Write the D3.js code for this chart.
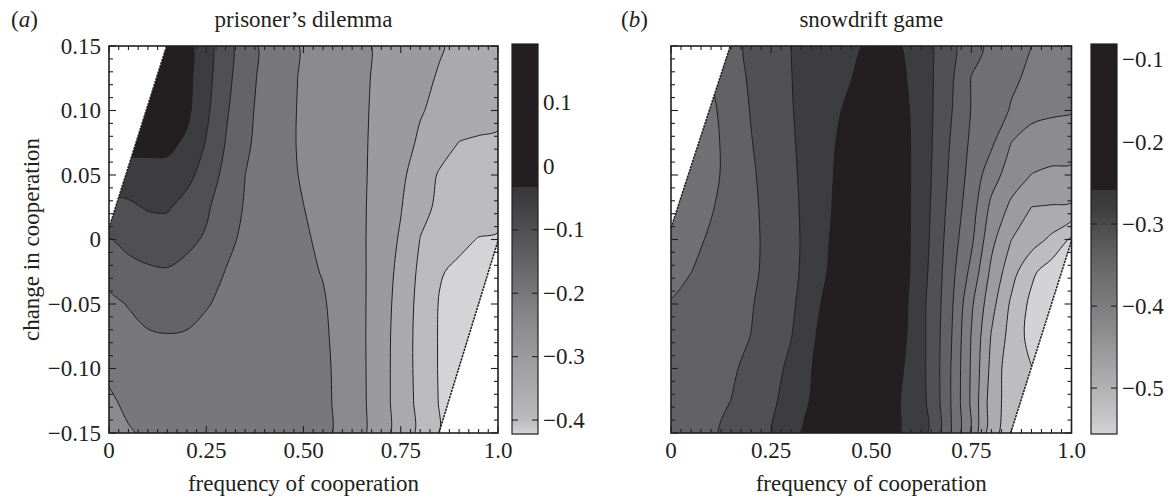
<!DOCTYPE html>
<html><head><meta charset="utf-8">
<script src="https://cdn.jsdelivr.net/npm/d3@7"></script>
<style>body{margin:0;background:#fff}svg text{font-family:"Liberation Serif","Times New Roman",serif;fill:#231f20}</style>
</head><body><svg id="c" width="1172" height="502"></svg>
<script>
// ---------------- data ----------------
const gridX = [0,0.05,0.1,0.15,0.2,0.25,0.3,0.35,0.4,0.45,0.5,0.55,0.6,0.65,0.7,0.75,0.8,0.85,0.9,0.95,1.0];
const gridY = [0.15,0.125,0.1,0.075,0.05,0.025,0,-0.025,-0.05,-0.075,-0.1,-0.125,-0.15];

// prisoner's dilemma: change in cooperation field (rows top to bottom)
const pdValues = [
 [0.15,0.13,0.10,0.065,0.017,-0.0324,-0.081,-0.1273,-0.1615,-0.1848,-0.2045,-0.2175,-0.2305,-0.2434,-0.2566,-0.2698,-0.2831,-0.2963,-0.31,-0.322,-0.333],
 [0.15,0.13,0.10,0.065,0.015,-0.034,-0.0843,-0.1311,-0.1636,-0.1869,-0.2056,-0.2183,-0.2311,-0.2438,-0.258,-0.2737,-0.2894,-0.304,-0.317,-0.33,-0.342],
 [0.15,0.14,0.10,0.06,0.011,-0.0401,-0.0929,-0.1371,-0.166,-0.1887,-0.2064,-0.219,-0.2316,-0.2443,-0.2601,-0.2786,-0.297,-0.31,-0.3225,-0.343,-0.345],
 [0.03,0.02,0.014,0.012,-0.008,-0.0529,-0.1016,-0.1419,-0.1675,-0.1895,-0.2066,-0.2192,-0.2318,-0.2445,-0.2623,-0.2841,-0.3062,-0.3295,-0.351,-0.352,-0.353],
 [-0.03,-0.025,-0.017,-0.016,-0.035,-0.0723,-0.1138,-0.15,-0.169,-0.1878,-0.2046,-0.2179,-0.2312,-0.2444,-0.2647,-0.2901,-0.3238,-0.355,-0.361,-0.366,-0.371],
 [-0.065,-0.058,-0.046,-0.045,-0.0677,-0.093,-0.1247,-0.1539,-0.1691,-0.1842,-0.1994,-0.2144,-0.2294,-0.2445,-0.2683,-0.2972,-0.3393,-0.357,-0.366,-0.376,-0.385],
 [-0.103,-0.087,-0.078,-0.0747,-0.09,-0.1052,-0.1395,-0.1583,-0.1702,-0.1821,-0.194,-0.2087,-0.2264,-0.2441,-0.2716,-0.3058,-0.351,-0.37,-0.3888,-0.402,-0.404],
 [-0.137,-0.115,-0.1067,-0.104,-0.112,-0.130,-0.1512,-0.1612,-0.1711,-0.1811,-0.191,-0.2021,-0.2226,-0.2431,-0.2743,-0.3144,-0.3598,-0.3962,-0.41,-0.417,-0.42],
 [-0.159,-0.148,-0.133,-0.129,-0.1336,-0.148,-0.1564,-0.1648,-0.1732,-0.1816,-0.19,-0.1955,-0.2191,-0.2426,-0.2773,-0.3197,-0.3649,-0.403,-0.41,-0.416,-0.42],
 [-0.175,-0.1625,-0.155,-0.152,-0.154,-0.158,-0.164,-0.171,-0.176,-0.182,-0.187,-0.192,-0.217,-0.2424,-0.2796,-0.3223,-0.3669,-0.404,-0.411,-0.417,-0.42],
 [-0.191,-0.1756,-0.166,-0.162,-0.163,-0.166,-0.17,-0.174,-0.177,-0.181,-0.185,-0.189,-0.2154,-0.2417,-0.2802,-0.323,-0.3664,-0.404,-0.411,-0.417,-0.42],
 [-0.207,-0.19,-0.179,-0.172,-0.171,-0.173,-0.176,-0.178,-0.18,-0.182,-0.185,-0.188,-0.2146,-0.2411,-0.2804,-0.3228,-0.3641,-0.403,-0.41,-0.416,-0.42],
 [-0.212,-0.204,-0.193,-0.185,-0.181,-0.181,-0.182,-0.183,-0.183,-0.183,-0.185,-0.187,-0.2137,-0.2402,-0.2793,-0.3215,-0.3612,-0.401,-0.408,-0.414,-0.42]
];

// snowdrift game: change in cooperation field (rows top to bottom)
const sdValues = [
 [-0.355,-0.342,-0.33,-0.3176,-0.3051,-0.2925,-0.2799,-0.2716,-0.2633,-0.255,-0.245,-0.243,-0.2566,-0.277,-0.303,-0.3291,-0.3467,-0.3583,-0.37,-0.378,-0.385],
 [-0.36,-0.35,-0.34,-0.32,-0.3068,-0.2937,-0.2805,-0.2705,-0.2606,-0.2507,-0.235,-0.235,-0.2546,-0.2772,-0.3058,-0.341,-0.3534,-0.3658,-0.375,-0.3825,-0.39],
 [-0.37,-0.36,-0.3456,-0.3268,-0.3086,-0.295,-0.2814,-0.2692,-0.2571,-0.243,-0.2,-0.22,-0.2529,-0.2773,-0.3086,-0.3412,-0.3576,-0.3721,-0.392,-0.396,-0.398],
 [-0.38,-0.366,-0.348,-0.3296,-0.3111,-0.297,-0.2831,-0.2688,-0.2544,-0.235,-0.19,-0.2,-0.2519,-0.2784,-0.3128,-0.3454,-0.365,-0.4004,-0.4113,-0.414,-0.4148],
 [-0.385,-0.364,-0.3474,-0.3306,-0.3138,-0.2991,-0.285,-0.2692,-0.2525,-0.23,-0.17,-0.19,-0.2519,-0.2797,-0.3166,-0.3503,-0.387,-0.4149,-0.4306,-0.436,-0.4374],
 [-0.37,-0.3555,-0.3421,-0.3288,-0.3154,-0.3013,-0.2867,-0.2698,-0.251,-0.22,-0.16,-0.18,-0.2529,-0.2815,-0.3211,-0.3562,-0.4073,-0.4363,-0.4602,-0.462,-0.464],
 [-0.3573,-0.3469,-0.3365,-0.3261,-0.3156,-0.3031,-0.2879,-0.2699,-0.248,-0.2,-0.15,-0.17,-0.2543,-0.2829,-0.3262,-0.3642,-0.4217,-0.4598,-0.4763,-0.496,-0.525],
 [-0.3488,-0.3403,-0.3317,-0.3232,-0.3146,-0.303,-0.2877,-0.2683,-0.245,-0.19,-0.14,-0.17,-0.2564,-0.285,-0.3307,-0.3781,-0.4366,-0.4786,-0.5139,-0.535,-0.545],
 [-0.3385,-0.332,-0.3252,-0.3185,-0.3118,-0.2994,-0.2847,-0.2635,-0.235,-0.18,-0.13,-0.19,-0.262,-0.2867,-0.335,-0.3949,-0.4497,-0.4953,-0.527,-0.545,-0.555],
 [-0.333,-0.3275,-0.322,-0.316,-0.3097,-0.2952,-0.2808,-0.2576,-0.225,-0.17,-0.125,-0.215,-0.2598,-0.2876,-0.3385,-0.4014,-0.4621,-0.5018,-0.53,-0.545,-0.555],
 [-0.328,-0.323,-0.319,-0.3135,-0.3036,-0.2899,-0.2738,-0.2516,-0.21,-0.16,-0.12,-0.232,-0.261,-0.2874,-0.3414,-0.4036,-0.4682,-0.51,-0.519,-0.53,-0.54],
 [-0.325,-0.3205,-0.316,-0.3098,-0.2976,-0.2854,-0.2684,-0.248,-0.2,-0.15,-0.12,-0.24,-0.2618,-0.2861,-0.3414,-0.4051,-0.4746,-0.505,-0.515,-0.525,-0.535],
 [-0.3215,-0.318,-0.3135,-0.3038,-0.2925,-0.2812,-0.2631,-0.24,-0.19,-0.14,-0.12,-0.24,-0.2624,-0.2837,-0.3394,-0.4055,-0.4804,-0.505,-0.515,-0.525,-0.535]
];

const pdLevels = [-0.4,-0.35,-0.3,-0.25,-0.2,-0.15,-0.1,-0.05,0,0.05,0.1,0.15];
const sdLevels = [-0.52,-0.49,-0.46,-0.43,-0.4,-0.37,-0.34,-0.31,-0.28,-0.25,-0.22,-0.19,-0.16,-0.13,-0.1];

const xTickValues = [0,0.25,0.5,0.75,1];
const xTickLabels = ["0","0.25","0.50","0.75","1.0"];
const yTickValues = [0.15,0.1,0.05,0,-0.05,-0.1,-0.15];
const yTickLabels = ["0.15","0.10","0.05","0","\u22120.05","\u22120.10","\u22120.15"];

const pdBarRange = [-0.422,0.193];
const pdBarTicks = [0.1,0,-0.1,-0.2,-0.3,-0.4];
const pdBarLabels = ["0.1","0","\u22120.1","\u22120.2","\u22120.3","\u22120.4"];
const sdBarRange = [-0.556,-0.0805];
const sdBarTicks = [-0.1,-0.2,-0.3,-0.4,-0.5];
const sdBarLabels = ["\u22120.1","\u22120.2","\u22120.3","\u22120.4","\u22120.5"];

// excluded (infeasible) corners: boundary lines
const excludedTopLeft = [[0,0.009],[0.148,0.15]];
const excludedBottomRight = [[0.848,-0.15],[1.0,-0.001]];

const panelTitles = ["prisoner\u2019s dilemma","snowdrift game"];
const panelTags = ["a","b"];

// ---------------- styles / layout ----------------
const INK = "#231f20";
const pdBlackFrom = -0.033, sdBlackFrom = -0.258;
// grey ramps (value -> grey)
const pdRamp = d3.scaleLinear()
  .domain([-0.422,-0.4,-0.35,-0.3,-0.25,-0.2,-0.15,-0.1,-0.05,-0.033])
  .range(["#d4d4d6","#bbbbbd","#aaaaac","#9b9b9d","#8b8b8d","#78787a","#646466","#505052","#3d3d3f","#38383a"]);
const sdRamp = d3.scaleLinear()
  .domain([-0.556,-0.52,-0.49,-0.46,-0.43,-0.4,-0.37,-0.34,-0.31,-0.28,-0.258])
  .range(["#d3d3d5","#bdbdbf","#acacae","#9c9c9e","#8c8c8e","#7d7d7f","#717173","#626264","#515153","#3d3d3f","#38383a"]);
const pdColor = v => v >= pdBlackFrom ? INK : pdRamp(v);
const sdColor = v => v >= sdBlackFrom ? INK : sdRamp(v);

const panels = [
 {tag:panelTags[0], title:panelTitles[0], values:pdValues, levels:pdLevels, color:pdColor, blackFrom:pdBlackFrom,
  L:109, R:498, T:46, B:433, bar:{x0:512, x1:538, T:44, B:434, range:pdBarRange, ticks:pdBarTicks, labels:pdBarLabels},
  yLabels:true, tagX:11},
 {tag:panelTags[1], title:panelTitles[1], values:sdValues, levels:sdLevels, color:sdColor, blackFrom:sdBlackFrom,
  L:671, R:1071.5, T:46, B:433, bar:{x0:1091, x1:1117, T:44, B:434, range:sdBarRange, ticks:sdBarTicks, labels:sdBarLabels},
  yLabels:false, tagX:621}
];

const svg = d3.select("#c");
const FS = 23;

panels.forEach((p, pi) => {
  const x = d3.scaleLinear().domain([0,1]).range([p.L, p.R]);
  const y = d3.scaleLinear().domain([-0.15,0.15]).range([p.B, p.T]);
  const g = svg.append("g");
  const clipId = "clip" + pi;
  g.append("clipPath").attr("id", clipId).append("rect")
    .attr("x", p.L).attr("y", p.T).attr("width", p.R - p.L).attr("height", p.B - p.T);

  const nx = gridX.length, ny = gridY.length;
  const flat = p.values.flat();
  const contours = d3.contours().size([nx, ny]).thresholds(p.levels)(flat);
  const gx = d3.scaleLinear().domain([0.5, nx - 0.5]).range([x(gridX[0]), x(gridX[nx-1])]);
  const gy = d3.scaleLinear().domain([0.5, ny - 0.5]).range([y(gridY[0]), y(gridY[ny-1])]);
  const ringLine = d3.line().x(d => gx(d[0])).y(d => gy(d[1])).curve(d3.curveCatmullRomClosed.alpha(0.5));
  const pathOf = geom => geom.coordinates.map(poly => poly.map(ring => ringLine(ring.slice(0, -1))).join("")).join("");

  const cg = g.append("g").attr("clip-path", `url(#${clipId})`);
  const vmin = p.bar.range[0];
  cg.append("rect").attr("x", p.L).attr("y", p.T).attr("width", p.R - p.L).attr("height", p.B - p.T)
    .attr("fill", p.color(vmin));
  cg.selectAll("path.band").data(contours).join("path").attr("class","band")
    .attr("d", d => pathOf(d)).attr("fill", d => p.color(d.value)).attr("fill-rule","evenodd");
  cg.selectAll("path.iso").data(contours.filter((d, i) => i === 0 || p.color(p.levels[i-1]) !== INK))
    .join("path").attr("class","iso")
    .attr("d", d => pathOf(d)).attr("fill","none").attr("stroke", INK).attr("stroke-width", 1);

  // excluded corners
  const tl = excludedTopLeft, br = excludedBottomRight;
  g.append("path").attr("fill","#fff")
    .attr("d", d3.line()([[x(0), y(tl[0][1])], [x(tl[1][0]), y(0.15)], [x(0), y(0.15)]]) + "Z");
  g.append("path").attr("fill","#fff")
    .attr("d", d3.line()([[x(br[0][0]), y(-0.15)], [x(1), y(br[1][1])], [x(1), y(-0.15)]]) + "Z");
  [tl, br].forEach(seg => {
    g.append("line").attr("x1", x(seg[0][0])).attr("y1", y(seg[0][1])).attr("x2", x(seg[1][0])).attr("y2", y(seg[1][1]))
      .attr("stroke", INK).attr("stroke-width", 1.5).attr("stroke-dasharray", "2.4,0.9");
  });

  // frame and ticks
  g.append("rect").attr("x", p.L).attr("y", p.T).attr("width", p.R - p.L).attr("height", p.B - p.T)
    .attr("fill","none").attr("stroke", INK).attr("stroke-width", 1.6);
  const xMinor = d3.range(0, 1.0001, 0.025);
  const yMinor = d3.range(-0.15, 0.15001, 0.01);
  const tk = g.append("g").attr("stroke", INK).attr("stroke-width", 1.1);
  xMinor.forEach(v => {
    const major = xTickValues.some(t => Math.abs(t - v) < 1e-6);
    const len = major ? 7 : 4;
    tk.append("line").attr("x1", x(v)).attr("x2", x(v)).attr("y1", p.B).attr("y2", p.B - len);
    tk.append("line").attr("x1", x(v)).attr("x2", x(v)).attr("y1", p.T).attr("y2", p.T + len);
  });
  yMinor.forEach(v => {
    const major = yTickValues.some(t => Math.abs(t - v) < 1e-6);
    const len = major ? 7 : 4;
    tk.append("line").attr("y1", y(v)).attr("y2", y(v)).attr("x1", p.L).attr("x2", p.L + len);
    tk.append("line").attr("y1", y(v)).attr("y2", y(v)).attr("x1", p.R).attr("x2", p.R - len);
  });

  // tick labels
  xTickValues.forEach((v, i) => {
    g.append("text").attr("x", x(v)).attr("y", p.B + 25).attr("text-anchor","middle")
      .attr("font-size", FS).text(xTickLabels[i]);
  });
  if (p.yLabels) {
    yTickValues.forEach((v, i) => {
      g.append("text").attr("x", p.L - 8).attr("y", y(v) + 7.5).attr("text-anchor","end")
        .attr("font-size", FS).text(yTickLabels[i]);
    });
    g.append("text").attr("transform", `translate(39,${(p.T + p.B)/2}) rotate(-90)`)
      .attr("text-anchor","middle").attr("font-size", FS).text("change in cooperation");
  }
  g.append("text").attr("x", (p.L + p.R)/2).attr("y", 491).attr("text-anchor","middle")
    .attr("font-size", FS).text("frequency of cooperation");
  g.append("text").attr("x", (p.L + p.R)/2).attr("y", 27).attr("text-anchor","middle")
    .attr("font-size", FS).text(p.title);
  const tagT = g.append("text").attr("x", p.tagX).attr("y", 27).attr("font-size", FS);
  tagT.append("tspan").text("(");
  tagT.append("tspan").attr("font-style","italic").text(p.tag);
  tagT.append("tspan").text(")");

  // colour bar
  const b = p.bar;
  const by = d3.scaleLinear().domain(b.range).range([b.B, b.T]);
  const bg = g.append("g");
  d3.range(b.T, b.B, 1).forEach(py => {
    bg.append("rect").attr("x", b.x0).attr("y", py).attr("width", b.x1 - b.x0).attr("height", 1.2)
      .attr("fill", p.color(by.invert(py + 0.5)));
  });
  bg.append("rect").attr("x", b.x0).attr("y", b.T).attr("width", b.x1 - b.x0).attr("height", b.B - b.T)
    .attr("fill","none").attr("stroke", INK).attr("stroke-width", 1.2);
  b.ticks.forEach((v, i) => {
    bg.append("line").attr("x1", b.x0).attr("x2", b.x0 + 6).attr("y1", by(v)).attr("y2", by(v)).attr("stroke", INK).attr("stroke-width", 1.1);
    bg.append("line").attr("x1", b.x1 - 6).attr("x2", b.x1).attr("y1", by(v)).attr("y2", by(v)).attr("stroke", INK).attr("stroke-width", 1.1);
    bg.append("text").attr("x", b.x1 + 5).attr("y", by(v) + 7.5).attr("font-size", FS).text(b.labels[i]);
  });
});
</script></body></html>
